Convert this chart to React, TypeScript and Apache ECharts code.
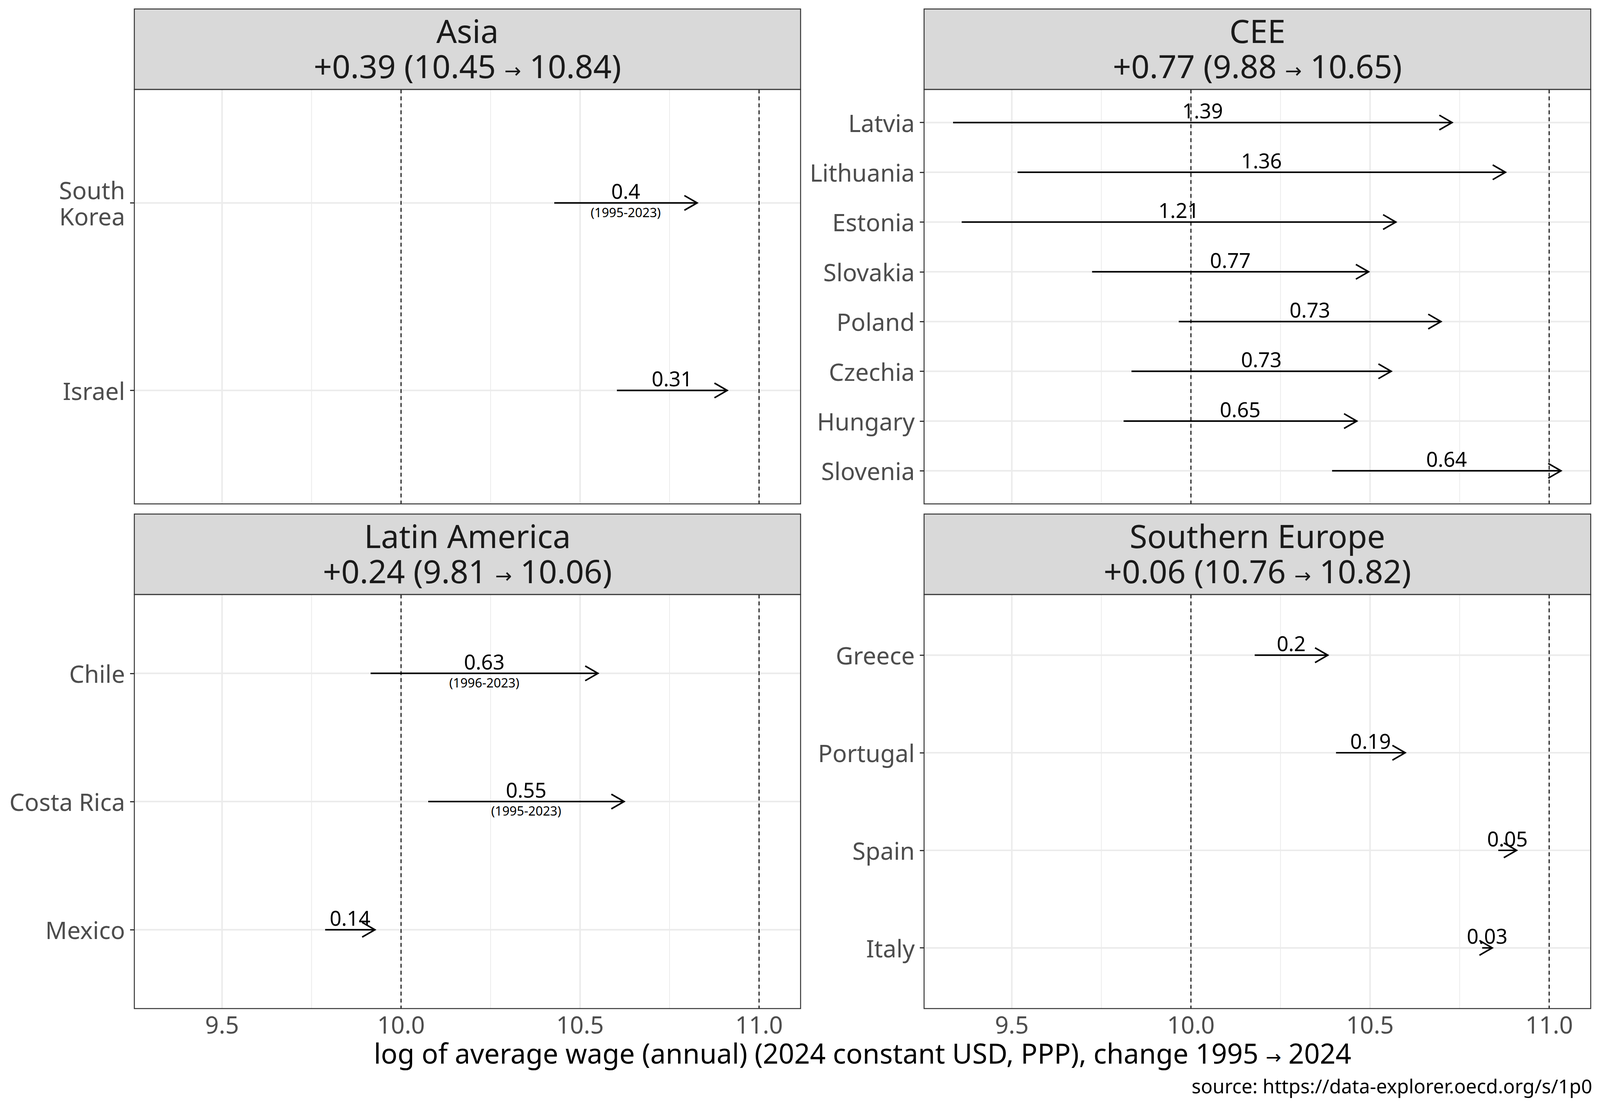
import React, { useEffect, useRef } from "react";
import * as echarts from "echarts";

const FONT = '"Noto Sans", "Open Sans", "DejaVu Sans", sans-serif';

// ---- Asia ----
const asiaCountries = ["South\nKorea", "Israel"];
const asiaStart = [10.428, 10.603];
const asiaEnd = [10.827, 10.911];
const asiaChange = ["0.4", "0.31"];
const asiaPeriod = ["(1995-2023)", ""];
const asiaHeadline = ["+0.39 (10.45", "10.84)"];

// ---- CEE ----
const ceeCountries = ["Latvia", "Lithuania", "Estonia", "Slovakia", "Poland", "Czechia", "Hungary", "Slovenia"];
const ceeStart = [9.336, 9.516, 9.36, 9.724, 9.966, 9.834, 9.812, 10.394];
const ceeEnd = [10.729, 10.878, 10.572, 10.496, 10.698, 10.559, 10.463, 11.033];
const ceeChange = ["1.39", "1.36", "1.21", "0.77", "0.73", "0.73", "0.65", "0.64"];
const ceePeriod = ["", "", "", "", "", "", "", ""];
const ceeHeadline = ["+0.77 (9.88", "10.65)"];

// ---- Latin America ----
const latamCountries = ["Chile", "Costa Rica", "Mexico"];
const latamStart = [9.915, 10.076, 9.788];
const latamEnd = [10.55, 10.623, 9.927];
const latamChange = ["0.63", "0.55", "0.14"];
const latamPeriod = ["(1996-2023)", "(1995-2023)", ""];
const latamHeadline = ["+0.24 (9.81", "10.06)"];

// ---- Southern Europe ----
const seCountries = ["Greece", "Portugal", "Spain", "Italy"];
const seStart = [10.178, 10.405, 10.858, 10.813];
const seEnd = [10.382, 10.598, 10.909, 10.841];
const seChange = ["0.2", "0.19", "0.05", "0.03"];
const sePeriod = ["", "", "", ""];
const seHeadline = ["+0.06 (10.76", "10.82)"];

const xTicks = [9.5, 10, 10.5, 11];
const xMinorGrid = [9.75, 10.25, 10.75];
const refLines = [10, 11];
const xTitleParts = ["log of average wage (annual) (2024 constant USD, PPP), change 1995", "2024"];
const sourceNote = "source: https://data-explorer.oecd.org/s/1p0";

const X_MIN = 9.255;
const X_MAX = 11.116;

const panels = [
  { name: "Asia", headline: asiaHeadline, countries: asiaCountries, start: asiaStart, end: asiaEnd, change: asiaChange, period: asiaPeriod },
  { name: "CEE", headline: ceeHeadline, countries: ceeCountries, start: ceeStart, end: ceeEnd, change: ceeChange, period: ceePeriod },
  { name: "Latin America", headline: latamHeadline, countries: latamCountries, start: latamStart, end: latamEnd, change: latamChange, period: latamPeriod },
  { name: "Southern Europe", headline: seHeadline, countries: seCountries, start: seStart, end: seEnd, change: seChange, period: sePeriod },
];

// reference design size
const REF_W = 4133;
const REF_H = 2834;

const LAYOUT = [
  { left: 347, top: 229, width: 1721, height: 1061, stripTop: 23, showX: false, yPad: 0.605 },
  { left: 2387, top: 229, width: 1722, height: 1061, stripTop: 23, showX: false, yPad: 0.665 },
  { left: 347, top: 1522, width: 1721, height: 1060, stripTop: 1316, showX: true, yPad: 0.615 },
  { left: 2387, top: 1522, width: 1722, height: 1060, stripTop: 1316, showX: true, yPad: 0.622 },
];

const BORDER = "#333333";
const GRID_COLOR = "#ebebeb";

function buildOption(sx: number, sy: number) {
  const sf = Math.min(sx, sy);
  const X = (v: number) => v * sx;
  const Y = (v: number) => v * sy;
  const F = (v: number) => v * sf;

  const grid: any[] = [];
  const xAxis: any[] = [];
  const yAxis: any[] = [];
  const series: any[] = [];
  const graphic: any[] = [];

  panels.forEach((p, i) => {
    const L = LAYOUT[i];
    const n = p.countries.length;
    const yMin = -L.yPad;
    const yMax = n - 1 + L.yPad;
    const idx = p.countries.map((_, k) => k);

    grid.push({ left: X(L.left), top: Y(L.top), width: X(L.width), height: Y(L.height), show: false, containLabel: false });
    xAxis.push({
      type: "value",
      gridIndex: i,
      min: X_MIN,
      max: X_MAX,
      axisLine: { show: false },
      splitLine: { show: false },
      axisTick: { show: L.showX, customValues: xTicks, length: F(11), lineStyle: { color: BORDER, width: F(3) } },
      axisLabel: {
        show: L.showX,
        customValues: xTicks,
        formatter: (v: number) => v.toFixed(1),
        color: "#4d4d4d",
        fontSize: F(62),
        fontFamily: FONT,
        margin: F(10),
      },
    });
    yAxis.push({
      type: "value",
      gridIndex: i,
      min: yMin,
      max: yMax,
      inverse: true,
      axisLine: { show: false },
      splitLine: { show: false },
      axisTick: { show: true, customValues: idx, length: F(11), lineStyle: { color: BORDER, width: F(3) } },
      axisLabel: {
        show: true,
        customValues: idx,
        formatter: (v: number) => p.countries[Math.round(v)] ?? "",
        color: "#4d4d4d",
        fontSize: F(62),
        lineHeight: F(67),
        align: "right",
        fontFamily: FONT,
        margin: F(24),
      },
    });

    // vertical gridlines (minor + major)
    series.push({
      type: "custom",
      xAxisIndex: i,
      yAxisIndex: i,
      z: 1,
      silent: true,
      data: [...xMinorGrid.map((v) => [v, 0]), ...xTicks.map((v) => [v, 1])],
      encode: { x: 0, y: 1 },
      renderItem: (params: any, api: any) => {
        const v = api.value(0);
        const major = api.value(1) === 1;
        const a = api.coord([v, yMin]);
        const b = api.coord([v, yMax]);
        return {
          type: "line",
          shape: { x1: a[0], y1: a[1], x2: b[0], y2: b[1] },
          style: { stroke: GRID_COLOR, lineWidth: F(major ? 4 : 2) },
        };
      },
    });
    // horizontal gridlines at categories
    series.push({
      type: "custom",
      xAxisIndex: i,
      yAxisIndex: i,
      z: 2,
      silent: true,
      data: idx.map((k) => [X_MIN, k]),
      encode: { x: 0, y: 1 },
      renderItem: (params: any, api: any) => {
        const k = api.value(1);
        const a = api.coord([X_MIN, k]);
        const b = api.coord([X_MAX, k]);
        return {
          type: "line",
          shape: { x1: a[0], y1: a[1], x2: b[0], y2: b[1] },
          style: { stroke: GRID_COLOR, lineWidth: F(4) },
        };
      },
    });
    // dashed reference lines
    series.push({
      type: "custom",
      xAxisIndex: i,
      yAxisIndex: i,
      z: 3,
      silent: true,
      data: refLines.map((v) => [v, 0]),
      encode: { x: 0, y: 1 },
      renderItem: (params: any, api: any) => {
        const v = api.value(0);
        const a = api.coord([v, yMin]);
        const b = api.coord([v, yMax]);
        return {
          type: "line",
          shape: { x1: a[0], y1: a[1], x2: b[0], y2: b[1] },
          style: { stroke: "#000000", lineWidth: F(2.5), lineDash: [F(10), F(8)] },
        };
      },
    });
    // arrows
    series.push({
      type: "custom",
      xAxisIndex: i,
      yAxisIndex: i,
      z: 4,
      silent: true,
      data: p.start.map((s, k) => [s, p.end[k], k]),
      encode: { x: [0, 1], y: 2 },
      renderItem: (params: any, api: any) => {
        const k = params.dataIndex;
        const s = api.coord([api.value(0), api.value(2)]);
        const e = api.coord([api.value(1), api.value(2)]);
        const len = F(38);
        const ang = Math.PI / 6;
        const hx = len * Math.cos(ang);
        const hy = len * Math.sin(ang);
        const mid = (s[0] + e[0]) / 2;
        const children: any[] = [
          {
            type: "line",
            shape: { x1: s[0], y1: s[1], x2: e[0], y2: e[1] },
            style: { stroke: "#000000", lineWidth: F(4) },
          },
          {
            type: "polyline",
            shape: { points: [[e[0] - hx, e[1] - hy], [e[0], e[1]], [e[0] - hx, e[1] + hy]] },
            style: { stroke: "#000000", lineWidth: F(4), fill: "none" },
          },
          {
            type: "text",
            x: mid,
            y: s[1] - F(31),
            style: {
              text: p.change[k],
              fontSize: F(53),
              fontFamily: FONT,
              fill: "#000000",
              align: "center",
              verticalAlign: "middle",
            },
          },
        ];
        if (p.period[k]) {
          children.push({
            type: "text",
            x: mid,
            y: s[1] + F(24),
            style: {
              text: p.period[k],
              fontSize: F(33),
              fontFamily: FONT,
              fill: "#000000",
              align: "center",
              verticalAlign: "middle",
            },
          });
        }
        return { type: "group", children };
      },
    });

    // strip
    const stripH = L.top - L.stripTop;
    graphic.push({
      type: "rect",
      z: 100,
      silent: true,
      shape: { x: X(L.left), y: Y(L.stripTop), width: X(L.width), height: Y(stripH) },
      style: { fill: "#d9d9d9", stroke: BORDER, lineWidth: F(2.5) },
    });
    graphic.push({
      type: "text",
      z: 101,
      silent: true,
      x: X(L.left + L.width / 2),
      y: Y(L.stripTop + 55),
      style: { text: p.name, fontSize: F(83), fontFamily: FONT, fill: "#1a1a1a", align: "center", verticalAlign: "middle" },
    });
    graphic.push({
      type: "text",
      z: 101,
      silent: true,
      x: X(L.left + L.width / 2),
      y: Y(L.stripTop + 145),
      style: {
        text: p.headline[0] + " {arr|→} " + p.headline[1],
        fontSize: F(83),
        fontFamily: FONT,
        fill: "#1a1a1a",
        align: "center",
        verticalAlign: "middle",
        rich: {
          arr: { fontSize: F(52), fontFamily: FONT, fill: "#1a1a1a", verticalAlign: "bottom", padding: [0, 0, F(4), 0] },
        },
      },
    });
    // panel border
    graphic.push({
      type: "rect",
      z: 100,
      silent: true,
      shape: { x: X(L.left), y: Y(L.top), width: X(L.width), height: Y(L.height) },
      style: { fill: "none", stroke: BORDER, lineWidth: F(2.5) },
    });
  });

  graphic.push({
    type: "text",
    silent: true,
    x: X(2228),
    y: Y(2696),
    style: {
      text: xTitleParts[0] + " {arr|→} " + xTitleParts[1],
      fontSize: F(71),
      fontFamily: FONT,
      fill: "#000000",
      align: "center",
      verticalAlign: "middle",
      rich: {
        arr: { fontSize: F(48), fontFamily: FONT, fill: "#000000", verticalAlign: "bottom", padding: [0, 0, F(3), 0] },
      },
    },
  });
  graphic.push({
    type: "text",
    silent: true,
    x: X(4113),
    y: Y(2780),
    style: { text: sourceNote, fontSize: F(50), fontFamily: FONT, fill: "#000000", align: "right", verticalAlign: "middle" },
  });

  return {
    animation: false,
    backgroundColor: "#ffffff",
    textStyle: { fontFamily: FONT },
    grid,
    xAxis,
    yAxis,
    series,
    graphic,
  };
}

export default function App() {
  const ref = useRef<HTMLDivElement>(null);
  useEffect(() => {
    const el = ref.current;
    if (!el) return;
    const W = el.clientWidth || REF_W;
    const H = el.clientHeight || REF_H;
    const chart = echarts.init(el, undefined, { renderer: "svg", width: W, height: H });
    chart.setOption(buildOption(W / REF_W, H / REF_H) as any);
    return () => chart.dispose();
  }, []);
  return (
    <div
      ref={ref}
      style={{ position: "fixed", left: 0, top: 0, width: "100vw", height: "100vh", background: "#ffffff", overflow: "hidden" }}
    />
  );
}
